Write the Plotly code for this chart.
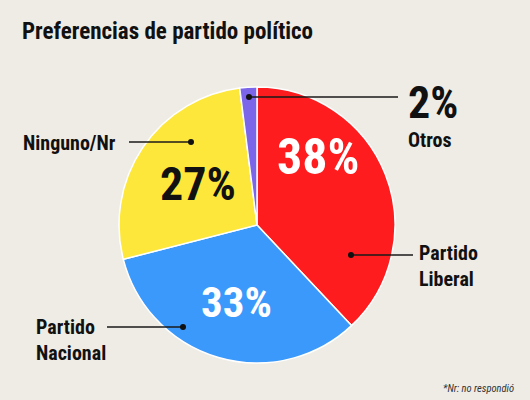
import plotly.graph_objects as go

# data
parties = ["Partido Liberal", "Partido Nacional", "Ninguno/Nr", "Otros"]
shares = [38, 33, 27, 2]
colors = ["#fe1c1e", "#3a99fb", "#fde73b", "#7b66e9"]

title = "Preferencias de partido político"
footnote = "*Nr: no respondió"

W, H = 530, 400
BG = "#eeece5"
FONT = "Roboto Condensed, Open Sans Condensed, Liberation Sans, sans-serif"

# pie sits at (257, 225) px, r = 138
cx, cy, r = 257, 225, 138

fig = go.Figure()
fig.add_trace(go.Pie(
    labels=parties, values=shares, sort=False, direction="clockwise", rotation=0,
    marker=dict(colors=colors, line=dict(color="white", width=1.5)),
    textinfo="none", hoverinfo="label+percent", showlegend=False,
    domain=dict(x=[(cx - r) / W, (cx + r) / W], y=[1 - (cy + r) / H, 1 - (cy - r) / H]),
))
# empty trace so the pixel axes exist
fig.add_trace(go.Scatter(x=[], y=[], showlegend=False))

# leader lines: (dot x, dot y, far end x)
leaders = {
    "Partido Liberal": (351, 255, 413),
    "Partido Nacional": (183, 327, 107),
    "Ninguno/Nr": (191, 142, 129),
    "Otros": (249, 97, 398),
}
shapes = []
for name in parties:
    dx, dy, ex = leaders[name]
    shapes.append(dict(type="line", x0=dx, x1=ex, y0=dy, y1=dy, layer="above",
                       line=dict(color="#1a1a1a", width=1.5)))
    shapes.append(dict(type="circle", x0=dx - 3, x1=dx + 3, y0=dy - 3, y1=dy + 3, layer="above",
                       fillcolor="#111", line=dict(width=0)))

# percentage labels: (x, y, size, colour)
pct_pos = {
    "Partido Liberal": (318, 157, 50, "white"),
    "Partido Nacional": (236, 302, 43, "white"),
    "Ninguno/Nr": (198, 184, 46, "#111"),
}
ann = []
for name, v in zip(parties, shares):
    if name in pct_pos:
        x, y, s, c = pct_pos[name]
        ann.append(dict(x=x, y=y, text=f"<b>{v}%</b>", showarrow=False,
                        font=dict(family=FONT, size=s, color=c)))

# Otros gets its % outside
ann.append(dict(x=406, y=103, text=f"<b>{shares[3]}%</b>", xanchor="left", showarrow=False,
                font=dict(family=FONT, size=44, color="#111")))

name_pos = {
    "Partido Liberal": (417, 266, "left", "Partido<br>Liberal"),
    "Partido Nacional": (34, 340, "left", "Partido<br>Nacional"),
    "Ninguno/Nr": (118, 143, "right", "Ninguno/Nr"),
    "Otros": (406, 140, "left", "Otros"),
}
for name in parties:
    x, y, xa, t = name_pos[name]
    ann.append(dict(x=x, y=y, text=f"<b>{t}</b>", xanchor=xa, align="left", showarrow=False,
                    font=dict(family=FONT, size=20, color="#111")))

ann.append(dict(x=20, y=31, text=f"<b>{title}</b>", xanchor="left", showarrow=False,
                font=dict(family=FONT, size=23, color="#111")))
ann.append(dict(x=516, y=388, text=f"<i>{footnote}</i>", xanchor="right", showarrow=False,
                font=dict(family=FONT, size=10.5, color="#333")))

fig.update_layout(
    width=W, height=H, margin=dict(l=0, r=0, t=0, b=0),
    paper_bgcolor=BG, plot_bgcolor="rgba(0,0,0,0)",
    xaxis=dict(range=[0, W], visible=False, fixedrange=True),
    yaxis=dict(range=[H, 0], visible=False, fixedrange=True),
    annotations=[dict(a, xref="x", yref="y") for a in ann],
    shapes=[dict(s, xref="x", yref="y") for s in shapes],
)

fig.write_html("out.html", config={"displayModeBar": False},
               post_script="document.body.style.margin='0';")
